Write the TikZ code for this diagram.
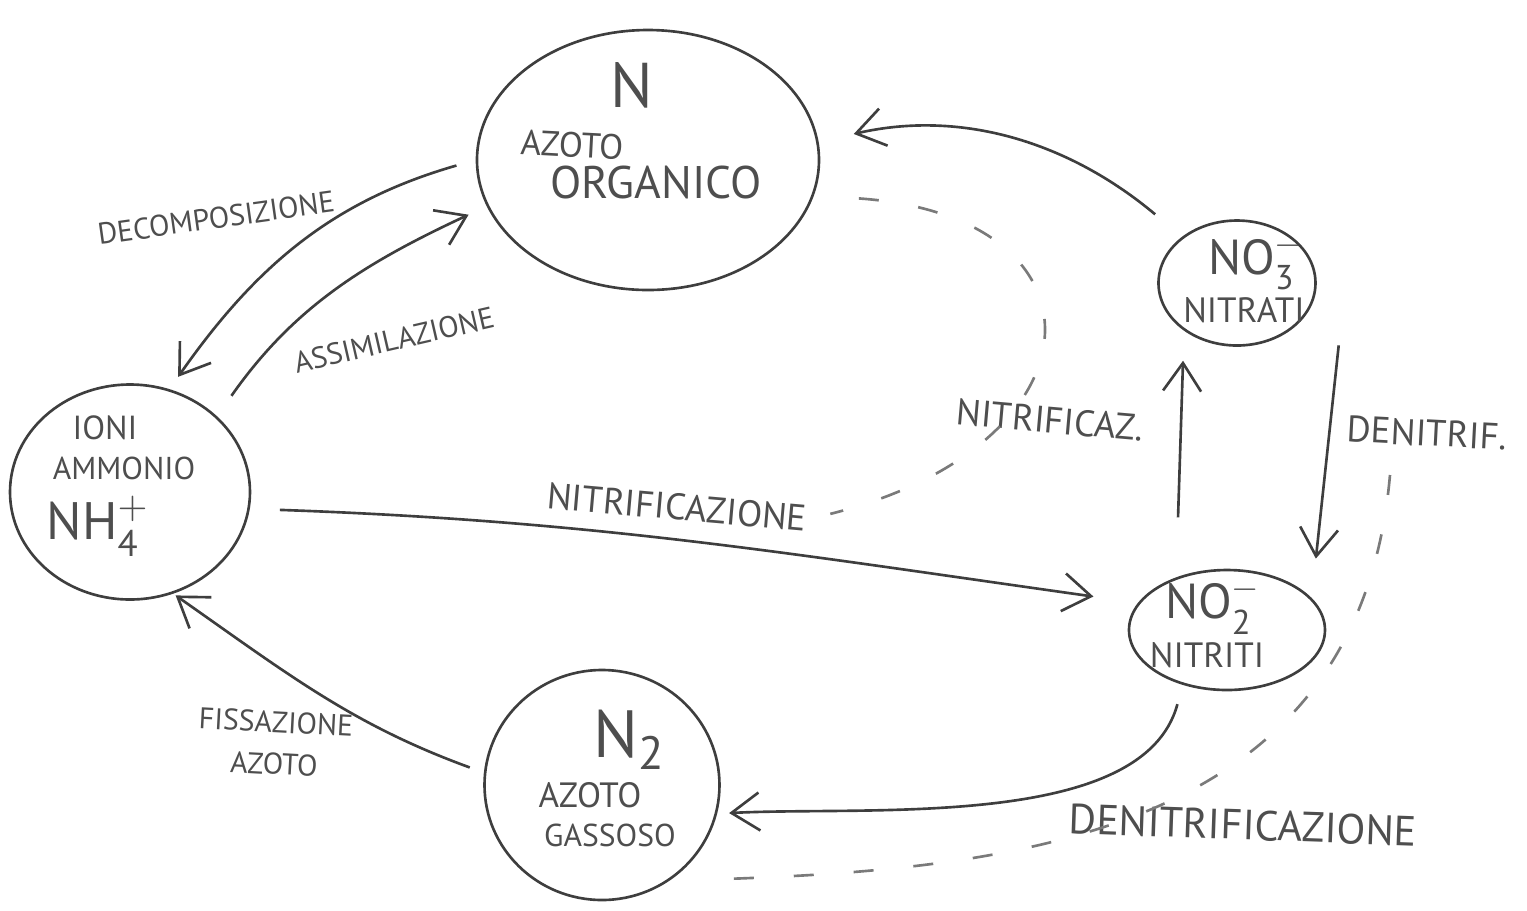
\documentclass[tikz,border=0pt]{standalone}
\usepackage{fontspec}
\usepackage{amsmath}
\setmainfont{PT Sans}
\usetikzlibrary{shapes.geometric, arrows.meta, calc}
\definecolor{ink}{RGB}{62,62,62}
\definecolor{pencil}{RGB}{78,78,78}

\begin{document}
\begin{tikzpicture}
                [x=0.1mm, y=-0.1mm,
                esty/.style={ellipse, draw=ink, line width=0.75pt, inner sep=0pt},
                tsty/.style={text=pencil, inner sep=1pt, font=\fontsize{10}{12}\selectfont},
                bsty/.style={text=pencil, inner sep=1pt, font=\fontsize{15}{17}\selectfont},
                asty/.style={-{Straight Barb[length=2.8mm, width=3.8mm]}, draw=ink, line width=0.75pt},
                dsty/.style={draw=pencil!75, line width=0.75pt, dash pattern=on 2mm off 4mm}]
                \useasboundingbox (0,0) rectangle (1527,910);
                % compartments
                \node[esty, minimum width=34.2mm, minimum height=26mm]   (org) at (648,160) {};
                \node[esty, minimum width=24mm,   minimum height=21.5mm] (amm) at (130,492) {};
                \node[esty, minimum width=15.7mm, minimum height=12.5mm] (no3) at (1237,283) {};
                \node[esty, minimum width=19.6mm, minimum height=12mm]   (no2) at (1227,630) {};
                \node[esty, minimum width=23.5mm, minimum height=23mm]   (n2)  at (602,785) {};
                % texts inside
                \node[bsty, font=\fontsize{18}{20}\selectfont] (orgn) at (632,85) {N};
                \node[tsty, rotate=-3] (orga) at (572,145) {AZOTO};
                \node[tsty, font=\fontsize{13}{15}\selectfont] (orgb) at (656,182) {ORGANICO};
                \node[tsty, font=\fontsize{9.5}{11}\selectfont] (amma) at (105,428) {IONI};
                \node[tsty, font=\fontsize{9}{11}\selectfont] (ammb) at (124,468) {AMMONIO};
                \node[bsty] (ammc) at (98,526) {NH$^{+}_{\text{4}}$};
                \node[bsty, font=\fontsize{14}{16}\selectfont] (no3a) at (1256,262) {NO$^{-}_{\text{3}}$};
                \node[tsty] (no3b) at (1244,310) {NITRATI};
                \node[bsty, font=\fontsize{14}{16}\selectfont] (no2a) at (1213,606) {NO$^{-}_{\text{2}}$};
                \node[tsty] (no2b) at (1207,655) {NITRITI};
                \node[bsty, font=\fontsize{19}{21}\selectfont] (n2a) at (630,740) {N\textsubscript{2}};
                \node[tsty] (n2b) at (590,795) {AZOTO};
                \node[tsty, font=\fontsize{9}{11}\selectfont] (n2c) at (610,835) {GASSOSO};
                % process labels
                \node[tsty, font=\fontsize{8.5}{10}\selectfont, rotate=8]  (decl) at (216,218) {DECOMPOSIZIONE};
                \node[tsty, font=\fontsize{8.5}{10}\selectfont, rotate=13] (assl) at (394,340) {ASSIMILAZIONE};
                \node[tsty, font=\fontsize{10.5}{12}\selectfont, rotate=-5] (nitl) at (677,507) {NITRIFICAZIONE};
                \node[tsty, font=\fontsize{10.5}{12}\selectfont, rotate=-5] (nitzl) at (1050,420) {NITRIFICAZ.};
                \node[tsty, font=\fontsize{10.5}{12}\selectfont, rotate=-3] (denl) at (1427,433) {DENITRIF.};
                \node[tsty, font=\fontsize{12}{14}\selectfont, rotate=-2] (denzl) at (1243,825) {DENITRIFICAZIONE};
                \node[tsty, font=\fontsize{8.5}{12}\selectfont, align=center, rotate=-3] (fisl) at (275,743) {FISSAZIONE\\AZOTO};
                \coordinate (dstart) at (1390,475);
                % flows
                \draw[asty, shorten <=2mm, shorten >=1.5mm] (org.west) to[out=196, in=55] (amm.69);
                \draw[asty, shorten <=2.5mm, shorten >=2mm] (amm.41) to[out=55, in=205] (org.196);
                \draw[asty, shorten <=3mm, shorten >=4.5mm] (amm.-8) to[out=-2, in=172] (no2.163);
                \draw[asty, shorten <=6mm, shorten >=3mm] (no2.134) -- (no3.222);
                \draw[asty] ($(no3.-30)+(37,25)$) -- ($(no2.40)+(30,-22)$);
                \draw[asty, shorten <=3.5mm, shorten >=3.6mm] (no3.140) to[out=140, in=13] (org.6);
                \draw[asty, shorten <=2mm, shorten >=1.2mm] (no2.231) to[out=-105, in=3, looseness=0.8] (n2.-14);
                \draw[asty, shorten <=1.5mm, shorten >=0.3mm] (n2.174) to[out=160, in=-35] (amm.-67);
                % dashed links
                \draw[dsty, shorten <=4.5mm, shorten >=2mm] (org.-12) to[out=-4, in=14, looseness=2.4] (nitl.east);
                \draw[dsty, shorten >=5.5mm] (dstart) to[out=-95, in=2, looseness=1.1] (n2.-55);
            \end{tikzpicture}
\end{document}
